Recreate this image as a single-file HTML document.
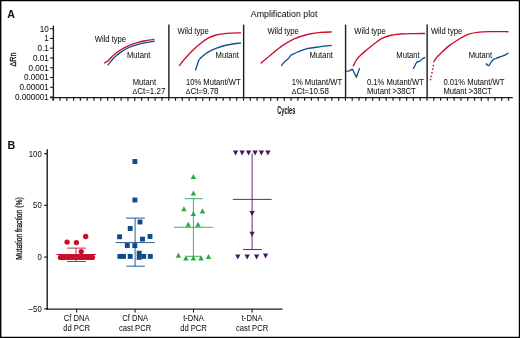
<!DOCTYPE html><html><head><meta charset="utf-8"><style>html,body{margin:0;padding:0;background:#fff;width:520px;height:338px;overflow:hidden}svg{display:block;will-change:transform}text{font-family:"Liberation Sans",sans-serif;fill:#111;stroke:#111;stroke-width:0.04px}</style></head><body>
<svg width="520" height="338" viewBox="0 0 520 338">
<rect width="520" height="338" fill="#fff"/>
<line x1="0.7" y1="0" x2="0.7" y2="338" stroke="#000" stroke-width="1.4" />
<line x1="0" y1="0.65" x2="520" y2="0.65" stroke="#000" stroke-width="1.3" />
<line x1="519.4" y1="0" x2="519.4" y2="338" stroke="#000" stroke-width="1.2" />
<line x1="0" y1="337.4" x2="520" y2="337.4" stroke="#000" stroke-width="1.2" />
<text x="7.2" y="17.7" font-size="10.7" text-anchor="start" font-weight="bold" fill="#000">A</text>
<text transform="translate(250.8,17.2) scale(0.93,1)" font-size="9.5" text-anchor="start" >Amplification plot</text>
<text transform="translate(15.9,59.5) rotate(-90) scale(0.8,1)" font-size="9" style="stroke-width:0.3px" text-anchor="middle">&#916;Rn</text>
<line x1="53.4" y1="25.6" x2="53.4" y2="100.5" stroke="#1a1a1a" stroke-width="1.35" />
<line x1="50.1" y1="28.7" x2="53.4" y2="28.7" stroke="#1a1a1a" stroke-width="1.1" />
<text transform="translate(48.9,31.6) scale(0.97,1)" font-size="8.4" text-anchor="end" >10</text>
<line x1="50.1" y1="38.46" x2="53.4" y2="38.46" stroke="#1a1a1a" stroke-width="1.1" />
<text transform="translate(48.9,41.36) scale(0.97,1)" font-size="8.4" text-anchor="end" >1</text>
<line x1="50.1" y1="48.22" x2="53.4" y2="48.22" stroke="#1a1a1a" stroke-width="1.1" />
<text transform="translate(48.9,51.12) scale(0.97,1)" font-size="8.4" text-anchor="end" >0.1</text>
<line x1="50.1" y1="57.980000000000004" x2="53.4" y2="57.980000000000004" stroke="#1a1a1a" stroke-width="1.1" />
<text transform="translate(48.9,60.88) scale(0.97,1)" font-size="8.4" text-anchor="end" >0.01</text>
<line x1="50.1" y1="67.74" x2="53.4" y2="67.74" stroke="#1a1a1a" stroke-width="1.1" />
<text transform="translate(48.9,70.64) scale(0.97,1)" font-size="8.4" text-anchor="end" >0.001</text>
<line x1="50.1" y1="77.5" x2="53.4" y2="77.5" stroke="#1a1a1a" stroke-width="1.1" />
<text transform="translate(48.9,80.4) scale(0.97,1)" font-size="8.4" text-anchor="end" >0.0001</text>
<line x1="50.1" y1="87.26" x2="53.4" y2="87.26" stroke="#1a1a1a" stroke-width="1.1" />
<text transform="translate(48.9,90.16) scale(0.97,1)" font-size="8.4" text-anchor="end" >0.00001</text>
<line x1="50.1" y1="97.02" x2="53.4" y2="97.02" stroke="#1a1a1a" stroke-width="1.1" />
<text transform="translate(48.9,99.92) scale(0.97,1)" font-size="8.4" text-anchor="end" >0.000001</text>
<line x1="50.1" y1="97.55" x2="512.8" y2="97.55" stroke="#1a1a1a" stroke-width="1.35" />
<line x1="53.2" y1="97.55" x2="53.2" y2="100.7" stroke="#1a1a1a" stroke-width="1.2" />
<line x1="60.0" y1="97.55" x2="60.0" y2="100.7" stroke="#1a1a1a" stroke-width="1.2" />
<line x1="66.79" y1="97.55" x2="66.79" y2="100.7" stroke="#1a1a1a" stroke-width="1.2" />
<line x1="73.59" y1="97.55" x2="73.59" y2="100.7" stroke="#1a1a1a" stroke-width="1.2" />
<line x1="80.38" y1="97.55" x2="80.38" y2="100.7" stroke="#1a1a1a" stroke-width="1.2" />
<line x1="87.18" y1="97.55" x2="87.18" y2="100.7" stroke="#1a1a1a" stroke-width="1.2" />
<line x1="93.98" y1="97.55" x2="93.98" y2="100.7" stroke="#1a1a1a" stroke-width="1.2" />
<line x1="100.77" y1="97.55" x2="100.77" y2="100.7" stroke="#1a1a1a" stroke-width="1.2" />
<line x1="107.57" y1="97.55" x2="107.57" y2="100.7" stroke="#1a1a1a" stroke-width="1.2" />
<line x1="114.36" y1="97.55" x2="114.36" y2="100.7" stroke="#1a1a1a" stroke-width="1.2" />
<line x1="121.16" y1="97.55" x2="121.16" y2="100.7" stroke="#1a1a1a" stroke-width="1.2" />
<line x1="127.96" y1="97.55" x2="127.96" y2="100.7" stroke="#1a1a1a" stroke-width="1.2" />
<line x1="134.75" y1="97.55" x2="134.75" y2="100.7" stroke="#1a1a1a" stroke-width="1.2" />
<line x1="141.55" y1="97.55" x2="141.55" y2="100.7" stroke="#1a1a1a" stroke-width="1.2" />
<line x1="148.34" y1="97.55" x2="148.34" y2="100.7" stroke="#1a1a1a" stroke-width="1.2" />
<line x1="155.14" y1="97.55" x2="155.14" y2="100.7" stroke="#1a1a1a" stroke-width="1.2" />
<line x1="161.94" y1="97.55" x2="161.94" y2="100.7" stroke="#1a1a1a" stroke-width="1.2" />
<line x1="168.73" y1="97.55" x2="168.73" y2="100.7" stroke="#1a1a1a" stroke-width="1.2" />
<line x1="175.53" y1="97.55" x2="175.53" y2="100.7" stroke="#1a1a1a" stroke-width="1.2" />
<line x1="182.32" y1="97.55" x2="182.32" y2="100.7" stroke="#1a1a1a" stroke-width="1.2" />
<line x1="189.12" y1="97.55" x2="189.12" y2="100.7" stroke="#1a1a1a" stroke-width="1.2" />
<line x1="195.92" y1="97.55" x2="195.92" y2="100.7" stroke="#1a1a1a" stroke-width="1.2" />
<line x1="202.71" y1="97.55" x2="202.71" y2="100.7" stroke="#1a1a1a" stroke-width="1.2" />
<line x1="209.51" y1="97.55" x2="209.51" y2="100.7" stroke="#1a1a1a" stroke-width="1.2" />
<line x1="216.3" y1="97.55" x2="216.3" y2="100.7" stroke="#1a1a1a" stroke-width="1.2" />
<line x1="223.1" y1="97.55" x2="223.1" y2="100.7" stroke="#1a1a1a" stroke-width="1.2" />
<line x1="229.9" y1="97.55" x2="229.9" y2="100.7" stroke="#1a1a1a" stroke-width="1.2" />
<line x1="236.69" y1="97.55" x2="236.69" y2="100.7" stroke="#1a1a1a" stroke-width="1.2" />
<line x1="243.49" y1="97.55" x2="243.49" y2="100.7" stroke="#1a1a1a" stroke-width="1.2" />
<line x1="250.28" y1="97.55" x2="250.28" y2="100.7" stroke="#1a1a1a" stroke-width="1.2" />
<line x1="257.08" y1="97.55" x2="257.08" y2="100.7" stroke="#1a1a1a" stroke-width="1.2" />
<line x1="263.88" y1="97.55" x2="263.88" y2="100.7" stroke="#1a1a1a" stroke-width="1.2" />
<line x1="270.67" y1="97.55" x2="270.67" y2="100.7" stroke="#1a1a1a" stroke-width="1.2" />
<line x1="277.47" y1="97.55" x2="277.47" y2="100.7" stroke="#1a1a1a" stroke-width="1.2" />
<line x1="284.26" y1="97.55" x2="284.26" y2="100.7" stroke="#1a1a1a" stroke-width="1.2" />
<line x1="291.06" y1="97.55" x2="291.06" y2="100.7" stroke="#1a1a1a" stroke-width="1.2" />
<line x1="297.86" y1="97.55" x2="297.86" y2="100.7" stroke="#1a1a1a" stroke-width="1.2" />
<line x1="304.65" y1="97.55" x2="304.65" y2="100.7" stroke="#1a1a1a" stroke-width="1.2" />
<line x1="311.45" y1="97.55" x2="311.45" y2="100.7" stroke="#1a1a1a" stroke-width="1.2" />
<line x1="318.24" y1="97.55" x2="318.24" y2="100.7" stroke="#1a1a1a" stroke-width="1.2" />
<line x1="325.04" y1="97.55" x2="325.04" y2="100.7" stroke="#1a1a1a" stroke-width="1.2" />
<line x1="331.84" y1="97.55" x2="331.84" y2="100.7" stroke="#1a1a1a" stroke-width="1.2" />
<line x1="338.63" y1="97.55" x2="338.63" y2="100.7" stroke="#1a1a1a" stroke-width="1.2" />
<line x1="345.43" y1="97.55" x2="345.43" y2="100.7" stroke="#1a1a1a" stroke-width="1.2" />
<line x1="352.22" y1="97.55" x2="352.22" y2="100.7" stroke="#1a1a1a" stroke-width="1.2" />
<line x1="359.02" y1="97.55" x2="359.02" y2="100.7" stroke="#1a1a1a" stroke-width="1.2" />
<line x1="365.82" y1="97.55" x2="365.82" y2="100.7" stroke="#1a1a1a" stroke-width="1.2" />
<line x1="372.61" y1="97.55" x2="372.61" y2="100.7" stroke="#1a1a1a" stroke-width="1.2" />
<line x1="379.41" y1="97.55" x2="379.41" y2="100.7" stroke="#1a1a1a" stroke-width="1.2" />
<line x1="386.2" y1="97.55" x2="386.2" y2="100.7" stroke="#1a1a1a" stroke-width="1.2" />
<line x1="393.0" y1="97.55" x2="393.0" y2="100.7" stroke="#1a1a1a" stroke-width="1.2" />
<line x1="399.8" y1="97.55" x2="399.8" y2="100.7" stroke="#1a1a1a" stroke-width="1.2" />
<line x1="406.59" y1="97.55" x2="406.59" y2="100.7" stroke="#1a1a1a" stroke-width="1.2" />
<line x1="413.39" y1="97.55" x2="413.39" y2="100.7" stroke="#1a1a1a" stroke-width="1.2" />
<line x1="420.18" y1="97.55" x2="420.18" y2="100.7" stroke="#1a1a1a" stroke-width="1.2" />
<line x1="426.98" y1="97.55" x2="426.98" y2="100.7" stroke="#1a1a1a" stroke-width="1.2" />
<line x1="433.78" y1="97.55" x2="433.78" y2="100.7" stroke="#1a1a1a" stroke-width="1.2" />
<line x1="440.57" y1="97.55" x2="440.57" y2="100.7" stroke="#1a1a1a" stroke-width="1.2" />
<line x1="447.37" y1="97.55" x2="447.37" y2="100.7" stroke="#1a1a1a" stroke-width="1.2" />
<line x1="454.16" y1="97.55" x2="454.16" y2="100.7" stroke="#1a1a1a" stroke-width="1.2" />
<line x1="460.96" y1="97.55" x2="460.96" y2="100.7" stroke="#1a1a1a" stroke-width="1.2" />
<line x1="467.76" y1="97.55" x2="467.76" y2="100.7" stroke="#1a1a1a" stroke-width="1.2" />
<line x1="474.55" y1="97.55" x2="474.55" y2="100.7" stroke="#1a1a1a" stroke-width="1.2" />
<line x1="481.35" y1="97.55" x2="481.35" y2="100.7" stroke="#1a1a1a" stroke-width="1.2" />
<line x1="488.14" y1="97.55" x2="488.14" y2="100.7" stroke="#1a1a1a" stroke-width="1.2" />
<line x1="494.94" y1="97.55" x2="494.94" y2="100.7" stroke="#1a1a1a" stroke-width="1.2" />
<line x1="501.74" y1="97.55" x2="501.74" y2="100.7" stroke="#1a1a1a" stroke-width="1.2" />
<line x1="508.53" y1="97.55" x2="508.53" y2="100.7" stroke="#1a1a1a" stroke-width="1.2" />
<line x1="168.88" y1="24.6" x2="168.88" y2="97.55" stroke="#1a1a1a" stroke-width="1.4" />
<line x1="243.64000000000001" y1="24.6" x2="243.64000000000001" y2="97.55" stroke="#1a1a1a" stroke-width="1.4" />
<line x1="345.58" y1="24.6" x2="345.58" y2="97.55" stroke="#1a1a1a" stroke-width="1.4" />
<line x1="427.13" y1="24.6" x2="427.13" y2="97.55" stroke="#1a1a1a" stroke-width="1.4" />
<text transform="translate(286.3,113.8) scale(0.53,1)" font-size="10.6" font-weight="bold" text-anchor="middle">Cycles</text>
<path d="M104.1,63.1 C104.63,62.82 106.55,61.88 107.3,61.4 C108.05,60.92 107.52,61.27 108.6,60.2 C109.68,59.13 111.77,56.73 113.8,55 C115.83,53.27 118.30,51.37 120.8,49.8 C123.30,48.23 125.92,46.85 128.8,45.6 C131.68,44.35 135.22,43.13 138.1,42.3 C140.98,41.47 143.38,41.08 146.1,40.6 C148.82,40.12 153.02,39.60 154.4,39.4" fill="none" stroke="#c8102e" stroke-width="1.35" stroke-linejoin="round" />
<path d="M107.6,65.3 C108.63,64.07 111.60,60.10 113.8,57.9 C116.00,55.70 118.30,53.83 120.8,52.1 C123.30,50.37 125.92,48.80 128.8,47.5 C131.68,46.20 135.22,45.12 138.1,44.3 C140.98,43.48 143.30,43.12 146.1,42.6 C148.90,42.08 153.43,41.43 154.9,41.2" fill="none" stroke="#134f8c" stroke-width="1.35" stroke-linejoin="round" />
<path d="M179.1,65.9 C179.78,65.03 181.17,63.05 183.2,60.7 C185.23,58.35 188.58,54.53 191.3,51.8 C194.02,49.07 196.77,46.53 199.5,44.3 C202.23,42.07 204.97,39.95 207.7,38.4 C210.43,36.85 212.72,35.85 215.9,35 C219.08,34.15 222.60,33.67 226.8,33.3 C231.00,32.93 238.72,32.88 241.1,32.8" fill="none" stroke="#c8102e" stroke-width="1.35" stroke-linejoin="round" />
<polyline points="195.4,70.5 198.8,60" fill="none" stroke="#134f8c" stroke-width="1.35" stroke-linejoin="round" stroke-linecap="butt" />
<path d="M198.8,60 C199.37,59.43 200.72,57.87 202.2,56.6 C203.68,55.33 205.42,53.78 207.7,52.4 C209.98,51.02 212.72,49.53 215.9,48.3 C219.08,47.07 222.60,45.92 226.8,45 C231.00,44.08 238.72,43.17 241.1,42.8" fill="none" stroke="#134f8c" stroke-width="1.35" stroke-linejoin="round" />
<path d="M260.7,63.4 C262.47,61.90 267.62,57.40 271.3,54.4 C274.98,51.40 278.98,47.98 282.8,45.4 C286.62,42.82 290.12,40.72 294.2,38.9 C298.28,37.08 302.93,35.58 307.3,34.5 C311.67,33.42 316.32,32.83 320.4,32.4 C324.48,31.97 329.90,31.98 331.8,31.9" fill="none" stroke="#c8102e" stroke-width="1.35" stroke-linejoin="round" />
<polyline points="281.2,65.9 284.4,61.8 287.7,59.3 291,55.2 297.5,52" fill="none" stroke="#134f8c" stroke-width="1.35" stroke-linejoin="round" stroke-linecap="butt" />
<path d="M297.5,52 C299.13,51.45 303.48,49.58 307.3,48.7 C311.12,47.82 316.32,47.25 320.4,46.7 C324.48,46.15 329.90,45.62 331.8,45.4" fill="none" stroke="#134f8c" stroke-width="1.35" stroke-linejoin="round" />
<path d="M353.1,66.3 C353.63,65.27 355.18,61.83 356.3,60.1 C357.42,58.37 358.03,57.62 359.8,55.9 C361.57,54.18 364.43,51.87 366.9,49.8 C369.37,47.73 372.03,45.43 374.6,43.5 C377.17,41.57 379.73,39.53 382.3,38.2 C384.87,36.87 386.92,36.20 390,35.5 C393.08,34.80 396.70,34.32 400.8,34 C404.90,33.68 410.53,33.68 414.6,33.6 C418.67,33.52 423.43,33.52 425.2,33.5" fill="none" stroke="#c8102e" stroke-width="1.35" stroke-linejoin="round" />
<polyline points="345.8,71.4 349.3,70.9 352.4,69.2 356.4,77.3 359.6,68.1" fill="none" stroke="#134f8c" stroke-width="1.35" stroke-linejoin="round" stroke-linecap="butt" />
<path d="M413.3,68.7 C413.62,68.08 414.65,66.02 415.2,65 C415.75,63.98 416.10,63.18 416.6,62.6 C417.10,62.02 417.63,61.73 418.2,61.5 C418.77,61.27 419.32,61.62 420,61.2 C420.68,60.78 421.43,59.65 422.3,59 C423.17,58.35 424.72,57.58 425.2,57.3" fill="none" stroke="#134f8c" stroke-width="1.35" stroke-linejoin="round" />
<circle cx="433.3" cy="65.6" r="0.85" fill="#c8102e"/>
<circle cx="432.7" cy="69.1" r="0.85" fill="#c8102e"/>
<circle cx="432.0" cy="72.7" r="0.85" fill="#c8102e"/>
<circle cx="431.2" cy="76.3" r="0.85" fill="#c8102e"/>
<circle cx="430.5" cy="79.5" r="0.85" fill="#c8102e"/>
<path d="M433.5,62.2 C433.95,61.53 435.20,59.47 436.2,58.2 C437.20,56.93 437.38,56.65 439.5,54.6 C441.62,52.55 445.75,48.42 448.9,45.9 C452.05,43.38 455.23,41.42 458.4,39.5 C461.57,37.58 464.75,35.58 467.9,34.4 C471.05,33.22 473.63,32.85 477.3,32.4 C480.97,31.95 484.72,31.82 489.9,31.7 C495.08,31.58 505.32,31.70 508.4,31.7" fill="none" stroke="#c8102e" stroke-width="1.35" stroke-linejoin="round" />
<polyline points="485.8,63.6 488.8,65.9" fill="none" stroke="#134f8c" stroke-width="1.35" stroke-linejoin="round" stroke-linecap="butt" />
<path d="M488.8,65.9 C489.43,64.95 491.47,61.43 492.6,60.2 C493.73,58.97 494.12,59.13 495.6,58.5 C497.08,57.87 499.85,57.02 501.5,56.4 C503.15,55.78 504.35,55.35 505.5,54.8 C506.65,54.25 507.92,53.38 508.4,53.1" fill="none" stroke="#134f8c" stroke-width="1.35" stroke-linejoin="round" />
<text transform="translate(94.7,42.4) scale(0.91,1)" font-size="8.4" text-anchor="start" >Wild type</text>
<text transform="translate(127.0,57.6) scale(0.91,1)" font-size="8.4" text-anchor="start" >Mutant</text>
<text transform="translate(132.7,84.9) scale(0.91,1)" font-size="8.4" text-anchor="start" >Mutant</text>
<text transform="translate(132.5,93.8) scale(0.95,1)" font-size="8.4" text-anchor="start" ><tspan font-size="7.4">&#916;</tspan>Ct=1.27</text>
<text transform="translate(177.39999999999998,33.9) scale(0.91,1)" font-size="8.4" text-anchor="start" >Wild type</text>
<text transform="translate(215.6,57.8) scale(0.91,1)" font-size="8.4" text-anchor="start" >Mutant</text>
<text transform="translate(185.89999999999998,84.9) scale(0.91,1)" font-size="8.4" text-anchor="start" >10% Mutant/WT</text>
<text transform="translate(185.7,93.8) scale(0.95,1)" font-size="8.4" text-anchor="start" ><tspan font-size="7.4">&#916;</tspan>Ct=9.78</text>
<text transform="translate(267.4,34) scale(0.91,1)" font-size="8.4" text-anchor="start" >Wild type</text>
<text transform="translate(309.5,57.7) scale(0.91,1)" font-size="8.4" text-anchor="start" >Mutant</text>
<text transform="translate(291.7,84.9) scale(0.91,1)" font-size="8.4" text-anchor="start" >1% Mutant/WT</text>
<text transform="translate(291.7,93.8) scale(0.95,1)" font-size="8.4" text-anchor="start" ><tspan font-size="7.4">&#916;</tspan>Ct=10.58</text>
<text transform="translate(354.3,34.3) scale(0.91,1)" font-size="8.4" text-anchor="start" >Wild type</text>
<text transform="translate(396.3,57.7) scale(0.91,1)" font-size="8.4" text-anchor="start" >Mutant</text>
<text transform="translate(367.0,84.9) scale(0.91,1)" font-size="8.4" text-anchor="start" >0.1% Mutant/WT</text>
<text transform="translate(367.0,93.8) scale(0.91,1)" font-size="8.4" text-anchor="start" >Mutant &gt;38CT</text>
<text transform="translate(430.9,34.2) scale(0.91,1)" font-size="8.4" text-anchor="start" >Wild type</text>
<text transform="translate(468.7,57.8) scale(0.91,1)" font-size="8.4" text-anchor="start" >Mutant</text>
<text transform="translate(443.4,84.9) scale(0.91,1)" font-size="8.4" text-anchor="start" >0.01% Mutant/WT</text>
<text transform="translate(443.4,93.8) scale(0.91,1)" font-size="8.4" text-anchor="start" >Mutant &gt;38CT</text>
<text x="7.4" y="149.2" font-size="10.7" text-anchor="start" font-weight="bold" fill="#000">B</text>
<text transform="translate(22.1,228.5) rotate(-90) scale(0.74,1)" font-size="9.2" style="stroke-width:0.3px" text-anchor="middle">Mutation fraction (%)</text>
<line x1="47.2" y1="149.25" x2="47.2" y2="309.8" stroke="#1a1a1a" stroke-width="1.4" />
<line x1="44.2" y1="153.63" x2="47.2" y2="153.63" stroke="#1a1a1a" stroke-width="1.2" />
<text transform="translate(41.7,156.53) scale(0.92,1)" font-size="8.4" text-anchor="end" >100</text>
<line x1="44.2" y1="205.37" x2="47.2" y2="205.37" stroke="#1a1a1a" stroke-width="1.2" />
<text transform="translate(41.7,208.27) scale(0.92,1)" font-size="8.4" text-anchor="end" >50</text>
<line x1="44.2" y1="257.1" x2="47.2" y2="257.1" stroke="#1a1a1a" stroke-width="1.2" />
<text transform="translate(41.7,260.0) scale(0.92,1)" font-size="8.4" text-anchor="end" >0</text>
<line x1="44.2" y1="308.84" x2="47.2" y2="308.84" stroke="#1a1a1a" stroke-width="1.2" />
<text transform="translate(41.7,311.74) scale(0.92,1)" font-size="8.4" text-anchor="end" >&#8722;50</text>
<line x1="46.5" y1="309.1" x2="282.5" y2="309.1" stroke="#1a1a1a" stroke-width="1.4" />
<line x1="76.6" y1="309.1" x2="76.6" y2="312.6" stroke="#1a1a1a" stroke-width="1.1" />
<line x1="135.1" y1="309.1" x2="135.1" y2="312.6" stroke="#1a1a1a" stroke-width="1.1" />
<line x1="193.5" y1="309.1" x2="193.5" y2="312.6" stroke="#1a1a1a" stroke-width="1.1" />
<line x1="252.1" y1="309.1" x2="252.1" y2="312.6" stroke="#1a1a1a" stroke-width="1.1" />
<text transform="translate(76.6,321.4) scale(0.93,1)" font-size="8.2" text-anchor="middle" >Cf DNA</text>
<text transform="translate(76.6,330.6) scale(0.93,1)" font-size="8.2" text-anchor="middle" >dd PCR</text>
<text transform="translate(135.1,321.4) scale(0.93,1)" font-size="8.2" text-anchor="middle" >Cf DNA</text>
<text transform="translate(135.1,330.6) scale(0.93,1)" font-size="8.2" text-anchor="middle" >cast PCR</text>
<text transform="translate(193.5,321.4) scale(0.93,1)" font-size="8.2" text-anchor="middle" >t-DNA</text>
<text transform="translate(193.5,330.6) scale(0.93,1)" font-size="8.2" text-anchor="middle" >dd PCR</text>
<text transform="translate(252.1,321.4) scale(0.93,1)" font-size="8.2" text-anchor="middle" >t-DNA</text>
<text transform="translate(252.1,330.6) scale(0.93,1)" font-size="8.2" text-anchor="middle" >cast PCR</text>
<circle cx="67.1" cy="242.1" r="2.7" fill="#c8102e"/>
<circle cx="76.4" cy="242.6" r="2.7" fill="#c8102e"/>
<circle cx="85.7" cy="236.5" r="2.7" fill="#c8102e"/>
<circle cx="81.2" cy="251.6" r="2.7" fill="#c8102e"/>
<rect x="57.8" y="254.8" width="37.3" height="5.3" rx="2.65" fill="#c8102e"/>
<line x1="56.5" y1="254.5" x2="95.8" y2="254.5" stroke="#c8102e" stroke-width="1.0" />
<line x1="67.1" y1="248.1" x2="86" y2="248.1" stroke="#c8102e" stroke-width="0.9" />
<line x1="67.1" y1="261.5" x2="86" y2="261.5" stroke="#c8102e" stroke-width="0.9" />
<line x1="76" y1="248.1" x2="76" y2="261.5" stroke="#c8102e" stroke-width="0.9" />
<line x1="115.6" y1="242.6" x2="154.7" y2="242.6" stroke="#0e4b87" stroke-width="0.9" />
<line x1="126" y1="218.1" x2="144.8" y2="218.1" stroke="#0e4b87" stroke-width="0.9" />
<line x1="126.3" y1="266.2" x2="144.8" y2="266.2" stroke="#0e4b87" stroke-width="0.9" />
<line x1="135.1" y1="218.1" x2="135.1" y2="266.2" stroke="#0e4b87" stroke-width="0.9" />
<rect x="132.45" y="159.05" width="4.9" height="4.9" fill="#0e4b87"/>
<rect x="132.45" y="197.55" width="4.9" height="4.9" fill="#0e4b87"/>
<rect x="137.55" y="219.55" width="4.9" height="4.9" fill="#0e4b87"/>
<rect x="127.75" y="226.05" width="4.9" height="4.9" fill="#0e4b87"/>
<rect x="117.15" y="234.35" width="4.9" height="4.9" fill="#0e4b87"/>
<rect x="147.55" y="234.05" width="4.9" height="4.9" fill="#0e4b87"/>
<rect x="140.05" y="236.65" width="4.9" height="4.9" fill="#0e4b87"/>
<rect x="124.85" y="243.05" width="4.9" height="4.9" fill="#0e4b87"/>
<rect x="132.35" y="243.15" width="4.9" height="4.9" fill="#0e4b87"/>
<rect x="117.45" y="253.95" width="4.9" height="4.9" fill="#0e4b87"/>
<rect x="121.05" y="253.95" width="4.9" height="4.9" fill="#0e4b87"/>
<rect x="127.75" y="253.95" width="4.9" height="4.9" fill="#0e4b87"/>
<rect x="136.75" y="250.75" width="4.9" height="4.9" fill="#0e4b87"/>
<rect x="136.75" y="254.95" width="4.9" height="4.9" fill="#0e4b87"/>
<rect x="141.35" y="253.95" width="4.9" height="4.9" fill="#0e4b87"/>
<rect x="147.85" y="253.95" width="4.9" height="4.9" fill="#0e4b87"/>
<line x1="174.1" y1="227.3" x2="212.9" y2="227.3" stroke="#2aa844" stroke-width="0.9" />
<line x1="184.8" y1="198.7" x2="202.8" y2="198.7" stroke="#2aa844" stroke-width="0.9" />
<line x1="185.9" y1="256.3" x2="201" y2="256.3" stroke="#2aa844" stroke-width="0.9" />
<line x1="193.4" y1="198.7" x2="193.4" y2="256.3" stroke="#2aa844" stroke-width="0.9" />
<path d="M193.4,173.9 L196.10,179.00 L190.70,179.00 Z" fill="#2aa844"/>
<path d="M193.4,190.4 L196.10,195.50 L190.70,195.50 Z" fill="#2aa844"/>
<path d="M183.9,206.2 L186.60,211.30 L181.20,211.30 Z" fill="#2aa844"/>
<path d="M202.5,208.3 L205.20,213.40 L199.80,213.40 Z" fill="#2aa844"/>
<path d="M193.4,210.8 L196.10,215.90 L190.70,215.90 Z" fill="#2aa844"/>
<path d="M188.2,221.7 L190.90,226.80 L185.50,226.80 Z" fill="#2aa844"/>
<path d="M198,221.7 L200.70,226.80 L195.30,226.80 Z" fill="#2aa844"/>
<path d="M178.4,252.7 L181.10,257.80 L175.70,257.80 Z" fill="#2aa844"/>
<path d="M185.9,255.3 L188.60,260.40 L183.20,260.40 Z" fill="#2aa844"/>
<path d="M193.4,255.3 L196.10,260.40 L190.70,260.40 Z" fill="#2aa844"/>
<path d="M201,255.3 L203.70,260.40 L198.30,260.40 Z" fill="#2aa844"/>
<path d="M208.5,253.9 L211.20,259.00 L205.80,259.00 Z" fill="#2aa844"/>
<line x1="232.8" y1="199.4" x2="271.7" y2="199.4" stroke="#4b1565" stroke-width="0.9" />
<line x1="243.2" y1="249.5" x2="261.7" y2="249.5" stroke="#4b1565" stroke-width="0.9" />
<line x1="252.1" y1="153.5" x2="252.1" y2="249.5" stroke="#4b1565" stroke-width="0.9" />
<path d="M232.95,150.4 L238.25,150.4 L235.6,155.50 Z" fill="#4b1565"/>
<path d="M239.45,150.4 L244.75,150.4 L242.1,155.50 Z" fill="#4b1565"/>
<path d="M245.95,150.4 L251.25,150.4 L248.6,155.50 Z" fill="#4b1565"/>
<path d="M252.45,150.4 L257.75,150.4 L255.1,155.50 Z" fill="#4b1565"/>
<path d="M258.75,150.4 L264.05,150.4 L261.4,155.50 Z" fill="#4b1565"/>
<path d="M265.25,150.4 L270.55,150.4 L267.9,155.50 Z" fill="#4b1565"/>
<path d="M249.45,211 L254.75,211 L252.1,216.10 Z" fill="#4b1565"/>
<path d="M249.45,231.7 L254.75,231.7 L252.1,236.80 Z" fill="#4b1565"/>
<path d="M235.15,254.4 L240.45,254.4 L237.8,259.50 Z" fill="#4b1565"/>
<path d="M244.55,254.4 L249.85,254.4 L247.2,259.50 Z" fill="#4b1565"/>
<path d="M253.95,254.4 L259.25,254.4 L256.6,259.50 Z" fill="#4b1565"/>
<path d="M262.95,253.5 L268.25,253.5 L265.6,258.60 Z" fill="#4b1565"/>
</svg></body></html>
